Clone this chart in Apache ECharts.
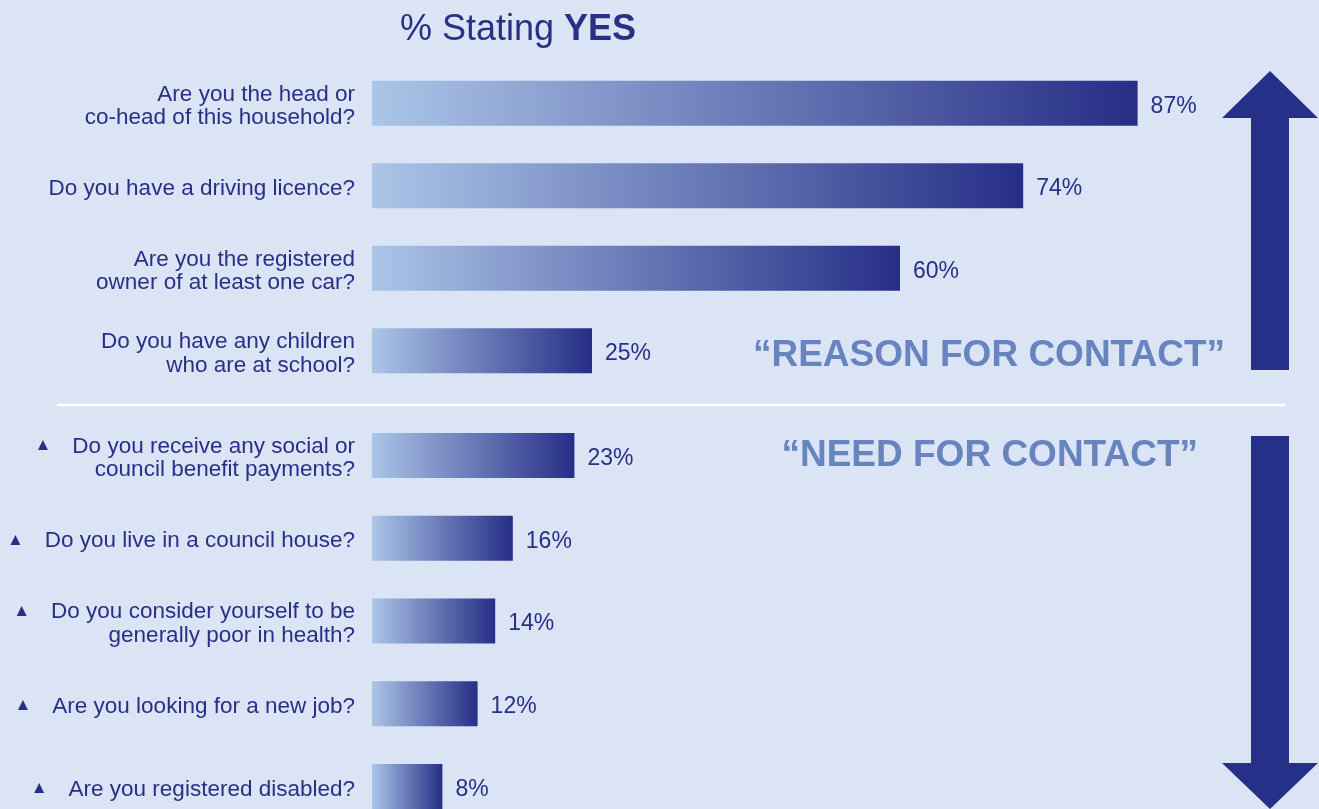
<!DOCTYPE html>
<html>
<head>
<meta charset="utf-8">
<style>
  html, body { margin: 0; padding: 0; background: #dbe4f4; }
  #chart { width: 1319px; height: 809px; }
</style>
<script src="https://cdn.jsdelivr.net/npm/echarts@6/dist/echarts.min.js"></script>
</head>
<body>
<div id="chart"></div>
<script>
// Survey questions, split into the two groups
const reasonQuestions = [
  'Are you the head or\nco-head of this household?',
  'Do you have a driving licence?',
  'Are you the registered\nowner of at least one car?',
  'Do you have any children\nwho are at school?'
];
const reasonValues = [87, 74, 60, 25];

const needQuestions = [
  'Do you receive any social or\ncouncil benefit payments?',
  'Do you live in a council house?',
  'Do you consider yourself to be\ngenerally poor in health?',
  'Are you looking for a new job?',
  'Are you registered disabled?'
];
const needValues = [23, 16, 14, 12, 8];

const titleText = '% Stating ';
const titleBold = 'YES';
const reasonHeading = '\u201cREASON FOR CONTACT\u201d';
const needHeading = '\u201cNEED FOR CONTACT\u201d';

const FONT = '"Liberation Sans", Arial, Helvetica, sans-serif';
const NAVY = '#2a2f86';
const ARROW = '#263088';
const HEAD = '#6884bf';

const chart = echarts.init(document.getElementById('chart'));

function barGradient() {
  return new echarts.graphic.LinearGradient(0, 0, 1, 0, [
    { offset: 0, color: '#abc5e7' },
    { offset: 1, color: '#262e86' }
  ]);
}

function catAxis(gridIndex, data, marked) {
  return {
    type: 'category',
    gridIndex: gridIndex,
    data: data,
    inverse: true,
    axisLine: { show: false },
    axisTick: { show: false },
    axisLabel: {
      margin: 17,
      color: NAVY,
      fontFamily: FONT,
      fontSize: 22.5,
      lineHeight: 23.5,
      align: 'right',
      padding: [6, 0, 0, 0],
      formatter: function (v) {
        if (!marked) return v;
        const lines = v.split('\n');
        lines[0] = '{tri|\u25b2}' + lines[0];
        return lines.join('\n');
      },
      rich: {
        tri: {
          fontSize: 17,
          color: NAVY,
          fontFamily: FONT,
          padding: [0, 21, 2, 0]
        }
      }
    }
  };
}

function valAxis(gridIndex) {
  return {
    type: 'value',
    gridIndex: gridIndex,
    min: 0,
    max: 100,
    show: false,
    splitLine: { show: false }
  };
}

function barSeries(idx, values) {
  return {
    type: 'bar',
    xAxisIndex: idx,
    yAxisIndex: idx,
    data: values,
    barWidth: 45,
    silent: true,
    itemStyle: { color: barGradient() },
    label: {
      show: true,
      position: 'right',
      distance: 13,
      offset: [0, 3],
      color: NAVY,
      fontFamily: FONT,
      fontSize: 23,
      formatter: '{c}%'
    }
  };
}

chart.setOption({
  backgroundColor: '#dbe4f4',
  animation: false,
  title: {
    text: '{n|' + titleText + '}{b|' + titleBold + '}',
    left: 395,
    top: 7,
    textStyle: {
      rich: {
        n: { fontFamily: FONT, fontSize: 36, color: NAVY, fontWeight: 'normal' },
        b: { fontFamily: FONT, fontSize: 36, color: NAVY, fontWeight: 'bold' }
      }
    }
  },
  grid: [
    { left: 372, width: 880, top: 62, height: 330, containLabel: false, outerBoundsMode: 'none' },
    { left: 372, width: 880, top: 414, height: 414, containLabel: false, outerBoundsMode: 'none' }
  ],
  xAxis: [valAxis(0), valAxis(1)],
  yAxis: [catAxis(0, reasonQuestions, false), catAxis(1, needQuestions, true)],
  series: [barSeries(0, reasonValues), barSeries(1, needValues)],
  graphic: [
    {
      type: 'line',
      shape: { x1: 57, y1: 405, x2: 1285, y2: 405 },
      style: { stroke: '#ffffff', lineWidth: 2.5 }
    },
    {
      type: 'text',
      right: 94,
      top: 337,
      style: {
        text: reasonHeading,
        fill: HEAD,
        font: 'bold 37px ' + FONT
      }
    },
    {
      type: 'text',
      right: 121,
      top: 437,
      style: {
        text: needHeading,
        fill: HEAD,
        font: 'bold 37px ' + FONT
      }
    },
    {
      type: 'polygon',
      shape: {
        points: [[1270, 71], [1222, 118], [1251, 118], [1251, 370], [1289, 370], [1289, 118], [1318, 118]]
      },
      style: { fill: ARROW }
    },
    {
      type: 'polygon',
      shape: {
        points: [[1251, 436], [1289, 436], [1289, 763], [1318, 763], [1270, 809], [1222, 763], [1251, 763]]
      },
      style: { fill: ARROW }
    }
  ]
});
</script>
</body>
</html>
